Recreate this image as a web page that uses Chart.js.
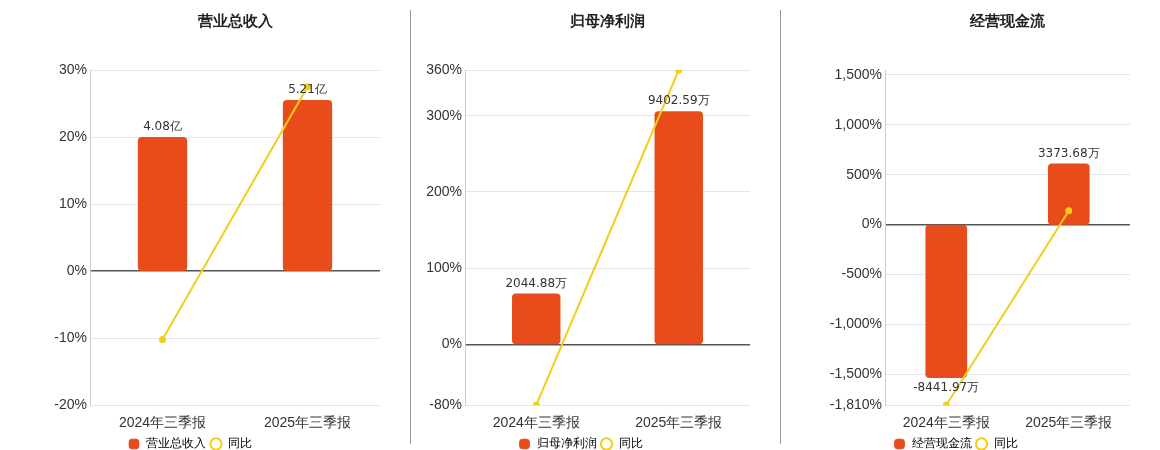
<!DOCTYPE html><html><head><meta charset="utf-8">
<script src="https://cdn.jsdelivr.net/npm/chart.js@4/dist/chart.umd.min.js"></script>
<style>body{margin:0;background:#fff;width:1160px;height:450px;position:relative;overflow:hidden;font-family:"DejaVu Sans",sans-serif}
.p{position:absolute;top:0;height:460px}.sep{position:absolute;top:10px;height:434px;width:1px;background:#999}</style></head><body>
<div class="p" style="left:0;width:410px"><canvas id="c0"></canvas></div>
<div class="sep" style="left:410px"></div>
<div class="p" style="left:411px;width:369px"><canvas id="c1"></canvas></div>
<div class="sep" style="left:780px"></div>
<div class="p" style="left:781px;width:379px"><canvas id="c2"></canvas></div>
<script>
const categories=['2024年三季报','2025年三季报'];
const titles=['营业总收入','归母净利润','经营现金流'];
const barValues0=[4.08,5.21];const barLabels0=['4.08亿','5.21亿'];const yoy0=[-10.2,27.5];
const barValues1=[2044.88,9402.59];const barLabels1=['2044.88万','9402.59万'];const yoy1=[-80,360];
const barValues2=[-8441.97,3373.68];const barLabels2=['-8441.97万','3373.68万'];const yoy2=[-1810,140];
const axisTicks=[[-20,-10,0,10,20,30],[-80,0,100,200,300,360],[-1810,-1500,-1000,-500,0,500,1000,1500]];
const axisRange=[[-20,30],[-80,360],[-1810,1550]];
const scaleK=[20/4.08,306/9402.59,614/3373.68];
const yWidth=[90,54,104];
const panels=[[barValues0,barLabels0,yoy0],[barValues1,barLabels1,yoy1],[barValues2,barLabels2,yoy2]];
const fmt=v=>v.toLocaleString('en-US')+'%';
panels.forEach((p,i)=>{
 const [bv,bl,yy]=p;const [mn,mx]=axisRange[i];const k=scaleK[i];
 new Chart(document.getElementById('c'+i),{
  data:{labels:categories,datasets:[
   {type:'bar',label:titles[i],data:bv,yAxisID:'y1',backgroundColor:'#E84C1A',borderRadius:4,borderSkipped:false,barPercentage:0.68,categoryPercentage:0.5,order:2},
   {type:'line',label:'同比',data:yy,yAxisID:'y',borderColor:'#F2CE1B',backgroundColor:'#F2CE1B',borderWidth:2,pointRadius:2.5,pointBackgroundColor:'#F2CE1B',pointBorderColor:'#F2CE1B',order:1}]},
  options:{responsive:true,maintainAspectRatio:false,animation:false,
   layout:{padding:{top:70,right:30,bottom:0,left:0}},
   plugins:{legend:{position:'bottom',labels:{usePointStyle:true,boxWidth:20,boxHeight:8,padding:4,font:{size:12},color:'#333',
     generateLabels:c=>[{text:titles[i],fillStyle:'#E84C1A',strokeStyle:'#E84C1A',pointStyle:'rectRounded',datasetIndex:0},{text:'同比',fillStyle:'#fff',strokeStyle:'#F2CE1B',lineWidth:2,pointStyle:'circle',datasetIndex:1}]}},
    tooltip:{enabled:false}},
   scales:{
    x:{grid:{display:false},border:{display:false},ticks:{color:'#333',font:{size:14},padding:2}},
    y:{min:mn,max:mx,afterBuildTicks:a=>{a.ticks=axisTicks[i].map(v=>({value:v}));},afterFit:s=>{s.width=yWidth[i];},
      ticks:{color:'#333',font:{size:14},callback:v=>fmt(v),autoSkip:false},
      grid:{color:c=>c.tick&&c.tick.value===0?'#555':'#e3e6ee',lineWidth:c=>c.tick&&c.tick.value===0?1.5:1,drawTicks:false},border:{color:'#ccc'}},
    y1:{display:false,min:mn/k,max:mx/k}}},
  plugins:[{id:'lbl',afterDatasetsDraw(c){const x=c.ctx;const m=c.getDatasetMeta(0);x.save();x.font='12px "DejaVu Sans"';x.fillStyle='#333';x.textAlign='center';
    m.data.forEach((e,j)=>{const neg=bv[j]<0;x.textBaseline=neg?'top':'bottom';x.fillText(bl[j],e.x,neg?e.y+4:e.y-4);});
    x.font='bold 15px "DejaVu Sans"';x.fillStyle='#222';x.textBaseline='middle';x.fillText(titles[i],(c.chartArea.left+c.chartArea.right)/2,22);x.restore();}}]
 });
});
</script></body></html>
